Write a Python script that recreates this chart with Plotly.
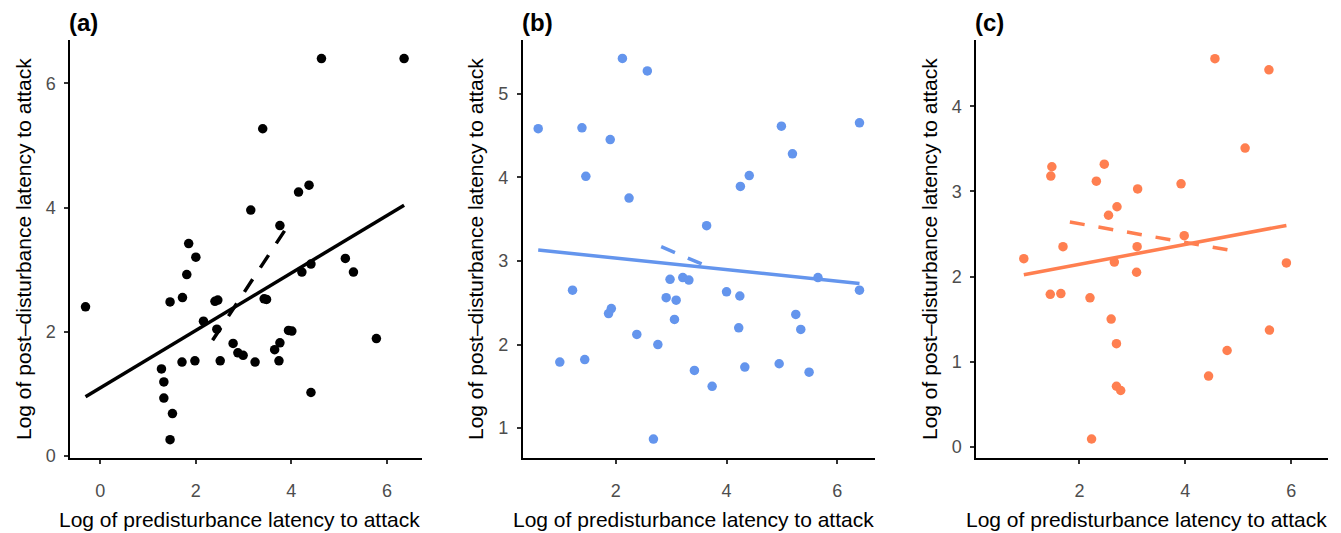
import plotly.graph_objects as go
import numpy as np

# ---------------- data ----------------
a_x = [-0.31, 4.63, 6.36, 3.40, 4.37, 4.15, 3.15, 3.76, 1.85, 2.00, 1.81, 5.13, 5.30, 4.41,
       4.22, 1.72, 1.46, 2.40, 2.46, 3.43, 3.48, 2.16, 2.44, 3.94, 4.01, 5.78, 2.78, 3.76,
       3.65, 2.88, 2.99, 1.71, 1.98, 2.51, 3.24, 3.74, 1.28, 1.33, 1.33, 4.41, 1.51, 1.46]
a_y = [2.40, 6.40, 6.40, 5.27, 4.36, 4.25, 3.96, 3.71, 3.42, 3.20, 2.92, 3.18, 2.96, 3.09,
       2.96, 2.55, 2.48, 2.49, 2.51, 2.53, 2.52, 2.17, 2.04, 2.02, 2.01, 1.89, 1.81, 1.82,
       1.71, 1.66, 1.62, 1.51, 1.53, 1.53, 1.51, 1.53, 1.40, 1.19, 0.93, 1.02, 0.68, 0.26]

b_x = [2.12, 2.57, 0.60, 1.39, 1.90, 4.99, 6.40, 5.19, 1.46, 4.41, 4.25, 2.24, 3.64, 1.22,
       2.98, 3.21, 3.32, 5.65, 6.40, 4.00, 4.24, 2.91, 3.09, 1.92, 1.87, 3.06, 5.25, 4.22,
       5.34, 2.38, 2.76, 0.99, 1.44, 4.95, 4.33, 3.42, 5.49, 3.74, 2.68]
b_y = [5.42, 5.27, 4.58, 4.59, 4.45, 4.61, 4.65, 4.28, 4.01, 4.02, 3.89, 3.75, 3.42, 2.65,
       2.78, 2.80, 2.77, 2.80, 2.65, 2.63, 2.58, 2.56, 2.53, 2.43, 2.37, 2.30, 2.36, 2.20,
       2.18, 2.12, 2.00, 1.79, 1.82, 1.77, 1.73, 1.69, 1.67, 1.50, 0.87]

c_x = [4.56, 5.58, 5.13, 1.48, 1.46, 2.47, 2.32, 3.10, 3.92, 2.71, 2.55, 3.98, 1.69, 3.09,
       0.95, 2.66, 5.91, 3.08, 1.45, 1.65, 2.20, 2.60, 5.59, 2.70, 4.79, 4.44, 2.70, 2.78, 2.23]
c_y = [4.56, 4.43, 3.51, 3.29, 3.18, 3.32, 3.12, 3.03, 3.09, 2.82, 2.72, 2.48, 2.35, 2.35,
       2.21, 2.17, 2.16, 2.05, 1.79, 1.80, 1.75, 1.50, 1.37, 1.21, 1.13, 0.83, 0.71, 0.66, 0.09]

# fitted lines: [x_start, x_end], intercept, slope
a_fit_solid = dict(xr=[-0.31, 6.36], b0=1.094, b1=0.463)
a_fit_dash = dict(xr=[2.35, 3.99], b0=-0.891, b1=1.171)
b_fit_solid = dict(xr=[0.60, 6.40], b0=3.171, b1=-0.069)
b_fit_dash = dict(xr=[2.82, 3.63], b0=3.971, b1=-0.284)
c_fit_solid = dict(xr=[0.95, 5.91], b0=1.909, b1=0.117)
c_fit_dash = dict(xr=[1.82, 5.01], b0=2.840, b1=-0.1097)

panel_labels = ["(a)", "(b)", "(c)"]
x_title = "Log of predisturbance latency to attack"
y_title = "Log of post\u2013disturbance latency to attack"

a_xticks = [0, 2, 4, 6]
a_yticks = [0, 2, 4, 6]
b_xticks = [2, 4, 6]
b_yticks = [1, 2, 3, 4, 5]
c_xticks = [2, 4, 6]
c_yticks = [0, 1, 2, 3, 4]

# ---------------- layout geometry ----------------
W, H = 1341, 533
FONT = "Liberation Sans, Arial, sans-serif"
panels = [
    dict(x=a_x, y=a_y, solid=a_fit_solid, dash=a_fit_dash, color="#000000",
         xr=[-0.635, 6.735], yr=[-0.04, 6.70], xt=a_xticks, yt=a_yticks,
         px=[70, 422], xtc=239, ytc=23),
    dict(x=b_x, y=b_y, solid=b_fit_solid, dash=b_fit_dash, color="#6495ED",
         xr=[0.32, 6.68], yr=[0.64, 5.64], xt=b_xticks, yt=b_yticks,
         px=[522.7, 875], xtc=693, ytc=475),
    dict(x=c_x, y=c_y, solid=c_fit_solid, dash=c_fit_dash, color="#FF7F50",
         xr=[0.047, 6.69], yr=[-0.137, 4.78], xt=c_xticks, yt=c_yticks,
         px=[976, 1327.7], xtc=1146, ytc=929),
]
top_px, bot_px = 40, 458.3

fig = go.Figure()
annotations = []
for i, p in enumerate(panels):
    n = "" if i == 0 else str(i + 1)
    xa, ya = "x" + n, "y" + n
    fig.add_trace(go.Scatter(x=p["x"], y=p["y"], mode="markers", xaxis=xa, yaxis=ya,
                             marker=dict(size=9.5, color=p["color"], line=dict(width=0)),
                             showlegend=False, hoverinfo="skip"))
    for fit, dash in [(p["solid"], "solid"), (p["dash"], "15px,14px")]:
        xs = np.array(fit["xr"])
        ys = fit["b0"] + fit["b1"] * xs
        fig.add_trace(go.Scatter(x=xs, y=ys, mode="lines", xaxis=xa, yaxis=ya,
                                 line=dict(color=p["color"], width=3.5, dash=dash),
                                 showlegend=False, hoverinfo="skip"))
    axis_common = dict(showgrid=False, zeroline=False, showline=True, linecolor="black",
                       linewidth=1.5, ticks="outside", ticklen=4, tickwidth=1.5,
                       tickcolor="#333333", tickfont=dict(family=FONT, size=18, color="#4D4D4D"),
                       automargin=False, fixedrange=True)
    fig.update_layout(**{
        ("xaxis" + n): dict(axis_common, domain=[p["px"][0] / W, p["px"][1] / W],
                            range=p["xr"], tickvals=p["xt"], anchor=ya, ticklabelstandoff=11),
        ("yaxis" + n): dict(axis_common, domain=[1 - bot_px / H, 1 - top_px / H],
                            range=p["yr"], tickvals=p["yt"], anchor=xa, ticklabelstandoff=5),
    })
    annotations.append(dict(text="<b>" + panel_labels[i] + "</b>", xref="paper", yref="paper",
                            x=(p["px"][0] - 3) / W, y=1 - 22 / H, xanchor="left", yanchor="middle",
                            showarrow=False, font=dict(family=FONT, size=24, color="black")))
    annotations.append(dict(text=x_title, xref="paper", yref="paper",
                            x=p["xtc"] / W, y=1 - 519 / H, xanchor="center", yanchor="middle",
                            showarrow=False, font=dict(family=FONT, size=21, color="black")))
    annotations.append(dict(text=y_title, xref="paper", yref="paper", textangle=-90,
                            x=p["ytc"] / W, y=1 - 249 / H, xanchor="center", yanchor="middle",
                            showarrow=False, font=dict(family=FONT, size=21, color="black")))

fig.update_layout(width=W, height=H, margin=dict(l=0, r=0, t=0, b=0),
                  paper_bgcolor="white", plot_bgcolor="white",
                  annotations=annotations, font=dict(family=FONT))
fig.write_html("out.html", config={"displayModeBar": False},
               post_script="document.body.style.margin='0px';document.body.style.padding='0px';")
